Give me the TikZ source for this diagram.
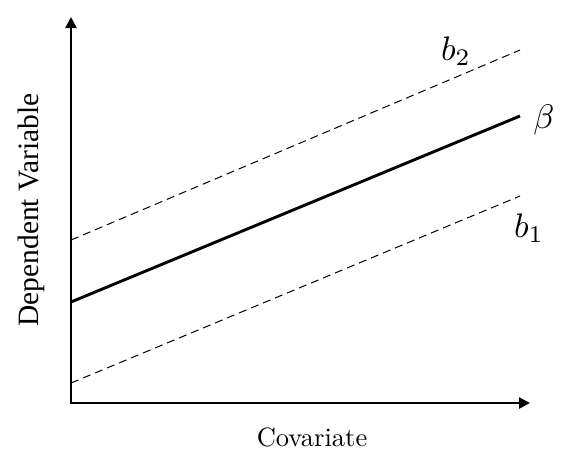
\documentclass[tikz,border=0pt]{standalone}
\usepackage{fontspec}
\newfontfamily\timesfont{Liberation Serif}
\usetikzlibrary{arrows.meta}
\tikzset{
  axis/.style={line width=2.5pt, {Triangle[length=11pt,width=11pt]}-{Triangle[length=11pt,width=11pt]}},
  fitline/.style={line width=2.9pt},
  boundline/.style={line width=1pt, dash pattern=on 8pt off 5pt},
  mathlabel/.style={inner sep=0pt, scale=3.4},
  axislabel/.style={inner sep=0pt}
}
\begin{document}
\begin{tikzpicture}[x=1pt,y=-1pt]
\useasboundingbox (0,0) rectangle (562,456);
\coordinate (ytop) at (71,17);
\coordinate (origin) at (71,403);
\coordinate (xend) at (530,403);
\draw[axis] (ytop) -- (origin) -- (xend);
\coordinate (s0) at (71,302);
\coordinate (s1) at (520,116);
\coordinate (u0) at (71,240);
\coordinate (u1) at (520,50);
\coordinate (l0) at (71,383);
\coordinate (l1) at (520,196);
\draw[fitline] (s0) -- (s1);
\draw[boundline] (u0) -- (u1);
\draw[boundline] (l0) -- (l1);
\node[mathlabel] (b2) at (456,51) {$b_2$};
\node[mathlabel] (beta) at (544,120) {$\beta$};
\node[mathlabel] (b1) at (529,228) {$b_1$};
\node[axislabel, anchor=base, scale=2.65] (xlab) at (312,446) {Covariate};
\node[axislabel, rotate=90, scale=2.95] (ylab) at (31,210) {\timesfont Dependent Variable};
\end{tikzpicture}
\end{document}
